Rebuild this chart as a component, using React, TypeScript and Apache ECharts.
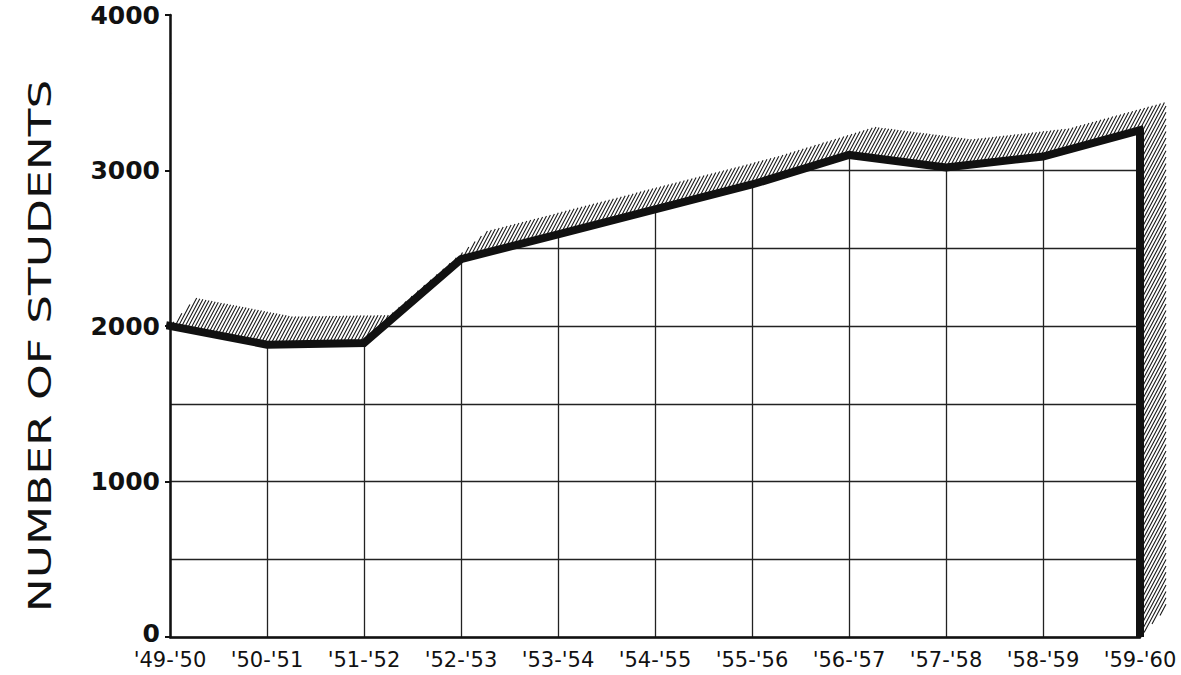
import React, { useEffect, useRef } from "react";
import * as echarts from "echarts";

const categories = ["'49-'50", "'50-'51", "'51-'52", "'52-'53", "'53-'54", "'54-'55", "'55-'56", "'56-'57", "'57-'58", "'58-'59", "'59-'60"];
const students = [2000, 1880, 1890, 2430, 2590, 2750, 2910, 3100, 3020, 3090, 3260];
const yMin = 0;
const yMax = 4000;
const yLabelStep = 1000;
const yGridStep = 500;
const yTitle = "NUMBER OF STUDENTS";

type Pt = number[];

function clipLine(poly: Pt[], p0: Pt, d: Pt): Pt[] | null {
  let tIn = -5000;
  let tOut = 5000;
  const cx = poly.reduce((s, p) => s + p[0], 0) / poly.length;
  const cy = poly.reduce((s, p) => s + p[1], 0) / poly.length;
  for (let i = 0; i < poly.length; i++) {
    const a = poly[i];
    const b = poly[(i + 1) % poly.length];
    let nx = -(b[1] - a[1]);
    let ny = b[0] - a[0];
    if (nx * (cx - a[0]) + ny * (cy - a[1]) < 0) {
      nx = -nx;
      ny = -ny;
    }
    const num = nx * (p0[0] - a[0]) + ny * (p0[1] - a[1]);
    const den = nx * d[0] + ny * d[1];
    if (Math.abs(den) < 1e-9) {
      if (num < 0) return null;
      continue;
    }
    const t = -num / den;
    if (den > 0) tIn = Math.max(tIn, t);
    else tOut = Math.min(tOut, t);
    if (tIn > tOut) return null;
  }
  if (tOut - tIn < 0.5) return null;
  return [
    [p0[0] + d[0] * tIn, p0[1] + d[1] * tIn],
    [p0[0] + d[0] * tOut, p0[1] + d[1] * tOut],
  ];
}

export default function App() {
  const ref = useRef<HTMLDivElement>(null);
  useEffect(() => {
    const chart = echarts.init(ref.current!, null, { renderer: "svg" });
    const offset = [26, -28];
    const hatchDir = [0.47, -0.883];

    const renderDecor = (params: any, api: any) => {
      if (params.dataIndex !== 0) return null;
      const pts: Pt[] = students.map((v, i) => api.coord([i, v]));
      const n = pts.length;
      const top = api.coord([0, yMax])[1] - 2;
      const bottom = api.coord([n - 1, yMin]);
      const children: any[] = [];
      const coverPts = [
        ...pts.map((p) => [p[0], p[1]]),
        [pts[n - 1][0] + 2, pts[n - 1][1]],
        [pts[n - 1][0] + 2, top],
        [pts[0][0] + 1.5, top],
      ];
      children.push({ type: "polygon", shape: { points: coverPts }, style: { fill: "#ffffff" }, silent: true });

      const path: Pt[] = [...pts, bottom];
      let d = "";
      for (let k = 0; k < path.length - 1; k++) {
        const A = path[k];
        const B = path[k + 1];
        const poly = [A, B, [B[0] + offset[0], B[1] + offset[1]], [A[0] + offset[0], A[1] + offset[1]]];
        const area = Math.abs((B[0] - A[0]) * offset[1] - (B[1] - A[1]) * offset[0]);
        if (area < 1) continue;
        for (let c = -600; c < 1800; c += 3.4) {
          const seg = clipLine(poly, [c, 0], hatchDir);
          if (seg) {
            d += `M${seg[0][0].toFixed(1)} ${seg[0][1].toFixed(1)}L${seg[1][0].toFixed(1)} ${seg[1][1].toFixed(1)}`;
          }
        }
      }
      children.push({
        type: "path",
        shape: { pathData: d },
        style: { fill: "none", stroke: "#1a1a1a", lineWidth: 1.1 },
        silent: true,
      });
      children.push({
        type: "line",
        shape: { x1: pts[n - 1][0], y1: pts[n - 1][1], x2: bottom[0], y2: bottom[1] },
        style: { stroke: "#111", lineWidth: 8 },
        silent: true,
      });
      return { type: "group", children };
    };

    chart.setOption({
      animation: false,
      backgroundColor: "#ffffff",
      grid: { left: 170, right: 41, top: 15, bottom: 38, containLabel: false },
      graphic: [
        {
          type: "text",
          x: 40,
          y: 346,
          rotation: Math.PI / 2,
          scaleX: 1.42,
          style: {
            text: yTitle,
            fontSize: 32,
            fontFamily: "DejaVu Sans",
            fill: "#111",
            align: "center",
            verticalAlign: "middle",
          },
        },
      ],
      xAxis: [
        {
          type: "category",
          data: categories,
          boundaryGap: false,
          z: 0,
          axisLine: { show: true, lineStyle: { color: "#111", width: 2.5 } },
          axisTick: { show: false },
          axisLabel: { color: "#111", fontSize: 21, fontFamily: "DejaVu Sans", margin: 12, interval: 0 },
          splitLine: { show: true, interval: 0, lineStyle: { color: "#222", width: 1.3 } },
        },
      ],
      yAxis: [
        {
          type: "value",
          min: yMin,
          max: yMax,
          interval: yGridStep,
          position: "left",
          z: 0,
          axisLine: { show: false },
          axisTick: { show: false },
          axisLabel: { show: false },
          splitLine: { show: true, lineStyle: { color: "#222", width: 1.3 } },
        },
        {
          type: "value",
          min: yMin,
          max: yMax,
          interval: yLabelStep,
          position: "left",
          z: 10,
          axisLine: { show: true, lineStyle: { color: "#111", width: 2.5 } },
          axisTick: { show: true, length: 5, lineStyle: { color: "#111", width: 2 } },
          axisLabel: {
            color: "#111",
            fontSize: 25,
            fontWeight: "bold",
            fontFamily: "DejaVu Sans",
            margin: 10,
            formatter: (v: number) => (v === yMin ? "{z|" + v + "}" : String(v)),
            rich: {
              z: {
                fontSize: 25,
                fontWeight: "bold",
                fontFamily: "DejaVu Sans",
                color: "#111",
                padding: [0, 0, 8, 0],
              },
            },
          },
          splitLine: { show: false },
        },
      ],
      series: [
        {
          type: "custom",
          renderItem: renderDecor,
          data: [[0, 0]],
          encode: { x: 0, y: 1 },
          xAxisIndex: 0,
          yAxisIndex: 0,
          z: 2,
          silent: true,
          clip: false,
        },
        {
          type: "line",
          data: students,
          xAxisIndex: 0,
          yAxisIndex: 0,
          symbol: "none",
          z: 3,
          silent: true,
          lineStyle: { color: "#111", width: 8, join: "miter", cap: "square" },
        },
      ],
    });
    return () => chart.dispose();
  }, []);

  return (
    <div
      ref={ref}
      style={{ position: "fixed", left: 0, top: 0, width: 1181, height: 675, background: "#fff" }}
    />
  );
}
